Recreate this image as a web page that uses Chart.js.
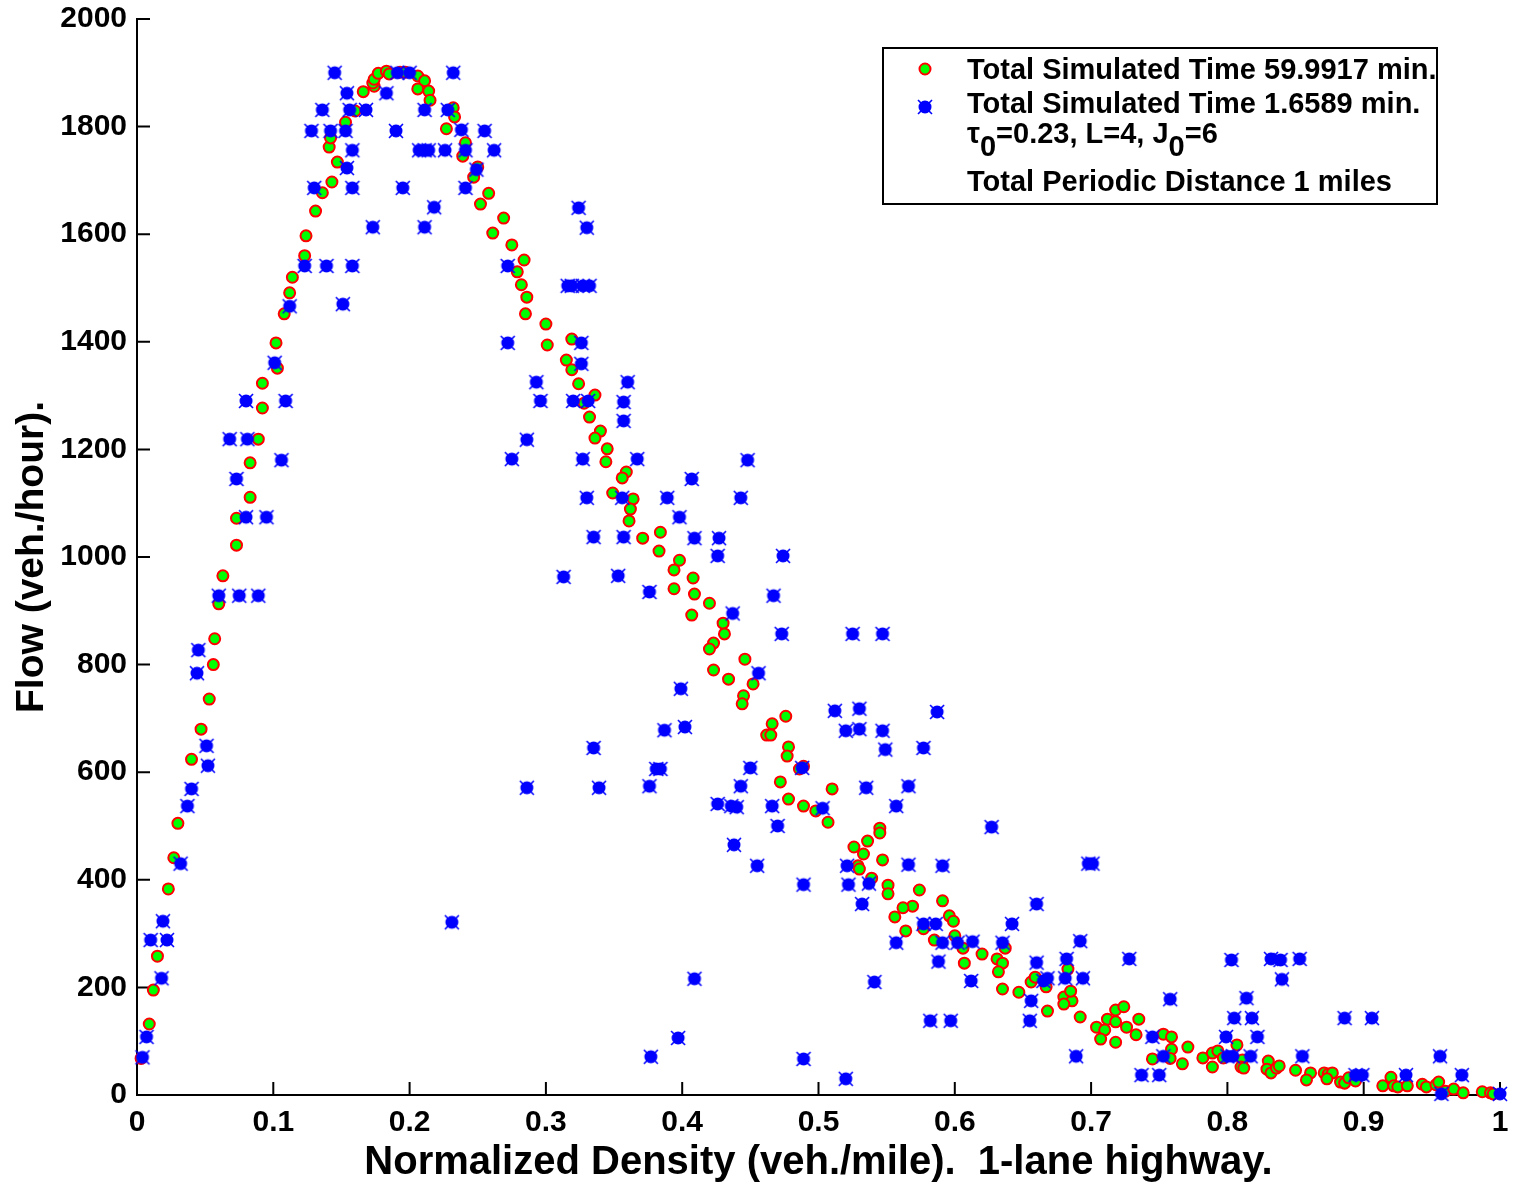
<!DOCTYPE html>
<html>
<head>
<meta charset="utf-8">
<script src="https://cdn.jsdelivr.net/npm/chart.js@4.4.0/dist/chart.umd.min.js"></script>
<style>
    html, body { margin: 0; padding: 0; background: #fff; }
    #wrap { width: 1520px; height: 1189px; }
</style>
</head>
<body>
<div id="wrap"><canvas id="grafica" width="1520" height="1189"></canvas></div>
<script>
"use strict";

// 59.9917 min run (green dots)
const densityLong = [0.003,0.009,0.012,0.015,0.023,0.027,0.030,0.040,0.047,0.053,0.056,0.057,0.060,0.063,
    0.073,0.073,0.083,0.083,0.089,0.092,0.092,0.103,0.102,0.108,0.112,0.114,0.123,0.124,0.131,0.136,0.143,0.147,0.141,0.142,0.153,0.160,0.166,0.174,0.173,0.174,0.177,0.183,0.185,0.193,0.197,0.206,0.211,0.206,0.214,0.215,
    0.232,0.233,0.227,0.241,0.239,0.250,0.247,0.258,0.252,0.269,0.261,0.275,0.284,0.279,0.282,0.286,0.285,0.300,0.301,0.319,0.315,0.319,0.324,0.336,0.328,0.332,0.340,0.336,0.345,0.344,0.359,0.356,0.349,0.364,0.362,0.361,0.371,0.384,0.383,0.398,0.394,0.408,0.394,0.409,0.420,0.407,0.430,0.431,0.423,0.420,0.423,0.434,
    0.446,0.445,0.452,0.444,0.476,0.466,0.462,0.465,0.478,0.477,0.486,0.489,0.472,0.510,0.478,0.489,0.498,0.507,0.545,0.545,0.536,0.526,0.533,0.547,0.529,0.530,0.539,0.551,0.551,0.574,0.569,0.562,0.556,0.591,0.596,0.599,0.564,0.577,0.585,0.600,0.606,0.607,0.620,0.631,0.635,0.637,0.632,0.635,0.647,0.656,0.659,0.667,0.668,
    0.683,0.680,0.686,0.680,0.685,0.692,0.718,0.724,0.712,0.718,0.704,0.710,0.707,0.718,0.726,0.735,0.733,0.753,0.759,0.759,0.771,0.745,0.758,0.767,0.782,0.789,0.789,0.793,0.797,0.807,0.811,0.810,0.812,0.830,0.829,0.832,0.836,0.838,0.850,0.861,0.858,0.871,0.874,0.877,0.873,0.883,0.886,0.889,0.894,0.914,0.920,0.922,0.925,0.932,0.943,0.946,0.953,0.955,0.960,0.966,0.973,0.987,0.993,0.995];
const flowLong = [68,132,195,258,383,441,505,624,680,736,800,848,913,965,
    1022,1072,1111,1175,1219,1277,1323,1351,1398,1452,1491,1520,1560,1597,1643,1677,1697,1734,1762,1779,1808,1829,1865,1875,1881,1888,1899,1903,1898,1901,1901,1894,1885,1870,1866,1849,
    1835,1818,1796,1770,1745,1725,1706,1676,1656,1630,1602,1580,1552,1530,1506,1483,1452,1433,1394,1405,1366,1348,1322,1301,1286,1260,1234,1221,1201,1177,1158,1147,1119,1108,1089,1067,1035,1046,1011,994,976,961,941,931,914,892,877,857,840,829,790,773,
    810,742,764,727,704,690,669,669,647,630,606,611,582,569,550,537,528,507,496,487,472,461,448,437,426,420,403,390,374,381,351,348,331,361,333,323,305,309,288,296,273,245,262,253,245,273,229,197,191,210,219,201,156,
    234,182,175,169,193,145,158,164,141,136,126,121,104,98,126,141,112,113,108,85,89,67,68,58,69,52,78,82,69,93,65,52,50,63,48,41,50,54,46,41,28,41,39,41,30,24,22,32,26,17,33,17,15,17,20,15,19,24,7,11,4,6,4,2];

// 1.6589 min run (blue stars)
const densityShort = [0.004,0.007,0.010,0.018,0.019,0.022,0.032,0.037,0.040,0.044,0.045,0.051,0.052,0.060,0.068,0.075,0.073,0.080,0.080,0.081,0.089,0.095,0.101,0.106,0.109,0.112,0.123,0.128,0.130,0.136,0.139,0.142,0.145,0.151,0.153,0.154,0.154,0.156,0.158,0.158,0.158,0.168,0.173,0.183,0.190,0.191,0.195,0.200,0.207,0.211,0.214,0.211,0.211,0.218,0.226,0.228,0.232,0.231,0.238,0.241,0.241,0.249,0.255,0.262,
    0.272,0.272,0.275,0.286,0.286,0.293,0.296,0.313,0.316,0.319,0.327,0.332,0.324,0.330,0.326,0.326,0.320,0.331,0.357,0.357,0.360,0.327,0.367,0.407,0.330,0.356,0.389,0.398,0.335,0.357,0.409,0.427,0.426,0.353,0.448,0.443,0.376,0.399,0.387,0.402,0.335,0.381,0.384,0.339,0.376,0.426,0.436,0.440,0.409,0.397,0.377,
    0.467,0.474,0.437,0.473,0.525,0.547,0.456,0.512,0.530,0.587,0.520,0.530,0.547,0.549,0.577,0.450,0.488,0.443,0.535,0.566,0.466,0.503,0.557,0.470,0.627,0.438,0.455,0.521,0.566,0.591,0.489,0.522,0.537,0.532,0.660,0.577,0.586,0.642,0.557,0.591,0.602,0.613,0.635,0.588,0.660,0.665,0.541,0.612,0.656,0.582,0.597,0.655,0.489,0.520,
    0.701,0.698,0.692,0.682,0.728,0.803,0.832,0.839,0.853,0.668,0.681,0.694,0.840,0.758,0.814,0.805,0.818,0.886,0.906,0.745,0.799,0.822,0.689,0.753,0.800,0.804,0.817,0.855,0.956,0.737,0.750,0.894,0.899,0.931,0.972,0.957,1.000];
const flowShort = [70,108,288,217,323,288,430,537,569,784,827,649,612,928,1219,928,1145,1074,1290,1219,928,1074,1361,1180,1290,1466,1541,1792,1686,1831,1541,1792,1900,1470,1792,1862,1723,1831,1686,1541,1756,1831,1613,1862,1792,1900,1686,1900,1756,1756,1756,1613,1831,1650,1756,1831,1900,321,1794,1756,1686,1720,1792,1756,
    1541,1398,1182,571,1218,1325,1290,963,1504,1504,1504,1504,1649,1612,1398,1359,1290,1290,1288,1253,1325,1182,1182,1145,1110,1110,1110,1074,1037,1037,1035,1035,1002,965,1180,1110,935,755,678,684,645,606,606,571,574,541,537,535,216,106,71,
    928,1002,895,857,857,857,784,714,718,712,677,680,677,642,645,608,608,574,571,574,537,533,537,500,498,465,426,426,428,426,391,391,393,355,355,318,318,318,283,283,283,285,283,248,246,212,210,212,175,138,138,138,67,30,
    430,430,286,253,253,251,253,251,253,217,217,217,215,178,180,143,143,143,143,108,108,108,72,72,72,72,72,72,72,37,37,37,37,37,37,2,2];

const xTicks = [0, 0.1, 0.2, 0.3, 0.4, 0.5, 0.6, 0.7, 0.8, 0.9, 1];
const yTicks = [0, 200, 400, 600, 800, 1000, 1200, 1400, 1600, 1800, 2000];

const seriesLabels = ["Total Simulated Time 59.9917 min.", "Total Simulated Time 1.6589 min."];
const paramLine = [["τ", false], ["0", true], ["=0.23, L=4, J", false], ["0", true], ["=6", false]];
const distanceLine = "Total Periodic Distance 1 miles";

const FONT = "'Liberation Sans', Arial, Helvetica, sans-serif";

function toPoints(xs, ys) {
    return xs.map((x, i) => ({ x: x, y: ys[i] }));
}

// blue marker: filled blob with x whiskers
function makeStar() {
    const c = document.createElement("canvas");
    c.width = 20;
    c.height = 20;
    const g = c.getContext("2d");
    g.fillStyle = "#0000ff";
    g.strokeStyle = "#0000ff";
    g.beginPath();
    g.arc(10, 10, 6.5, 0, Math.PI * 2);
    g.fill();
    g.lineWidth = 1.6;
    g.beginPath();
    g.moveTo(3, 3); g.lineTo(17, 17);
    g.moveTo(17, 3); g.lineTo(3, 17);
    g.stroke();
    return c;
}
const star = makeStar();

function drawDot(ctx, x, y) {
    ctx.save();
    ctx.beginPath();
    ctx.arc(x, y, 5.5, 0, Math.PI * 2);
    ctx.fillStyle = "#00ff00";
    ctx.fill();
    ctx.lineWidth = 2;
    ctx.strokeStyle = "#ff0000";
    ctx.stroke();
    ctx.restore();
}

const innerTicks = {
    id: "innerTicks",
    beforeDatasetsDraw(chart) {
        const { ctx, chartArea: a, scales: { x, y } } = chart;
        ctx.save();
        ctx.strokeStyle = "#000";
        ctx.lineWidth = 2;
        ctx.beginPath();
        x.ticks.forEach(t => {
            const px = x.getPixelForValue(t.value);
            ctx.moveTo(px, a.bottom);
            ctx.lineTo(px, a.bottom - 13);
        });
        y.ticks.forEach(t => {
            const py = y.getPixelForValue(t.value);
            ctx.moveTo(a.left, py);
            ctx.lineTo(a.left + 13, py);
        });
        ctx.stroke();
        ctx.restore();
    }
};

const boxLegend = {
    id: "boxLegend",
    afterDraw(chart) {
        const { ctx, chartArea: a } = chart;
        const left = a.right - 617, top = a.top + 29, w = 554, h = 156;
        ctx.save();
        ctx.fillStyle = "#fff";
        ctx.fillRect(left, top, w, h);
        ctx.strokeStyle = "#000";
        ctx.lineWidth = 2;
        ctx.strokeRect(left, top, w, h);

        const tx = left + 84, mx = left + 42;
        ctx.font = `bold 29px ${FONT}`;
        ctx.textBaseline = "middle";
        ctx.textAlign = "left";

        drawDot(ctx, mx, top + 21);
        ctx.drawImage(star, mx - 10, top + 49);

        ctx.fillStyle = "#000";
        ctx.fillText(seriesLabels[0], tx, top + 23);
        ctx.fillText(seriesLabels[1], tx, top + 57);

        let cx = tx;
        paramLine.forEach(([txt, sub]) => {
            ctx.fillText(txt, cx, top + 87 + (sub ? 13 : 0));
            cx += ctx.measureText(txt).width;
        });

        ctx.fillText(distanceLine, tx, top + 135);
        ctx.restore();
    }
};

new Chart(document.querySelector("#grafica"), {
    type: "scatter",
    data: {
        datasets: [
            {
                label: seriesLabels[0],
                data: toPoints(densityLong, flowLong),
                pointStyle: "circle",
                pointRadius: 5.5,
                pointBorderWidth: 2,
                backgroundColor: "#00ff00",
                borderColor: "#ff0000",
                order: 2,
                clip: false,
            },
            {
                label: seriesLabels[1],
                data: toPoints(densityShort, flowShort),
                pointStyle: star,
                pointRadius: 10,
                backgroundColor: "#0000ff",
                borderColor: "#0000ff",
                order: 1,
                clip: false,
            },
        ],
    },
    options: {
        responsive: false,
        animation: false,
        events: [],
        layout: { padding: { top: 19, right: 20, left: 0, bottom: 0 } },
        plugins: {
            legend: { display: false },
            tooltip: { enabled: false },
        },
        scales: {
            x: {
                type: "linear",
                min: 0,
                max: 1,
                afterBuildTicks: s => { s.ticks = xTicks.map(v => ({ value: v })); },
                afterFit: s => { s.height = 94; s.paddingLeft = 0; s.paddingRight = 0; },
                grid: { drawOnChartArea: false, drawTicks: false },
                border: { display: true, color: "#000", width: 2 },
                ticks: {
                    padding: 10,
                    color: "#000",
                    font: { family: FONT, size: 30, weight: "bold" },
                    maxRotation: 0,
                    callback: v => (v === 0 || v === 1 ? String(v) : v.toFixed(1)),
                },
                title: {
                    display: true,
                    text: "Normalized Density (veh./mile).  1-lane highway.",
                    color: "#000",
                    font: { family: FONT, size: 40, weight: "bold", lineHeight: 1.2 },
                    padding: { top: 0, bottom: 2 },
                },
            },
            y: {
                type: "linear",
                min: 0,
                max: 2000,
                afterBuildTicks: s => { s.ticks = yTicks.map(v => ({ value: v })); },
                afterFit: s => { s.width = 137; s.paddingTop = 0; s.paddingBottom = 0; },
                grid: { drawOnChartArea: false, drawTicks: false },
                border: { display: true, color: "#000", width: 2 },
                ticks: {
                    padding: 10,
                    color: "#000",
                    font: { family: FONT, size: 30, weight: "bold" },
                    callback: v => String(v),
                },
                title: {
                    display: true,
                    text: "Flow (veh./hour).",
                    color: "#000",
                    font: { family: FONT, size: 39, weight: "bold", lineHeight: 1.2 },
                    padding: { top: 9, bottom: 0 },
                },
            },
        },
    },
    plugins: [innerTicks, boxLegend],
});
</script>
</body>
</html>
